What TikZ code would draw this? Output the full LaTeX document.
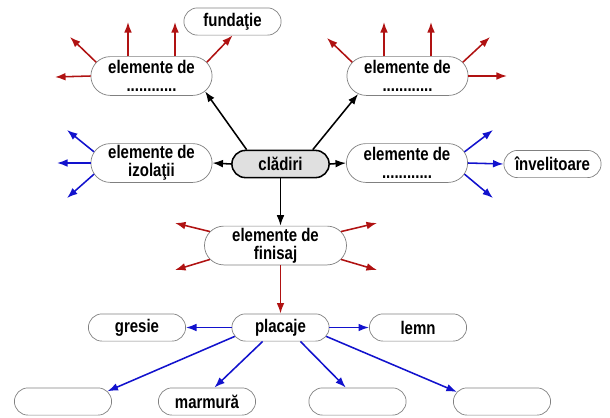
\documentclass[tikz,border=0pt]{standalone}
\usepackage{fontspec}
\newfontfamily\boxfont[FakeStretch=0.82]{Liberation Sans}
\usepackage{tikz}
\usetikzlibrary{shapes.misc, arrows.meta, positioning}
\definecolor{darkred}{RGB}{176,18,18}
\definecolor{darkblue}{RGB}{18,18,205}

\begin{document}
\begin{tikzpicture}[x=0.025cm, y=-0.025cm,
        box/.style={rounded rectangle, draw=black!50, fill=white, line width=0.5pt,
            align=center, inner sep=1pt, minimum width=2.5cm, minimum height=0.68cm,
            font=\boxfont\bfseries\fontsize{13}{13}\selectfont},
        bigbox/.style={box, minimum width=3.1cm, minimum height=0.97cm},
        root/.style={box, draw=black, line width=1.1pt, fill=black!12},
        blk/.style={-{Latex[length=7.5pt,width=5.5pt]}, line width=1.1pt},
        redarr/.style={blk, darkred},
        bluearr/.style={blk, darkblue}]
            \useasboundingbox (0,0) rectangle (610,417);

            % centre and the first ring
            \node[root] (cl) at (280.5,164) {clădiri};
            \node[bigbox] (tl) at (151.5,76) {elemente de\\............};
            \node[bigbox] (tr) at (407.5,76) {elemente de\\............};
            \node[bigbox] (iz) at (151.5,163) {elemente de\\izolaţii};
            \node[bigbox] (rm) at (407,163) {elemente de\\............};
            \node[bigbox, minimum width=3.62cm] (fin) at (275.5,245.5) {elemente de\\finisaj};
            \node[box] (fu) at (232.5,21.5) {fundaţie};
            \node[box] (inv) at (552.5,164) {învelitoare};

            % finishes
            \node[box] (pl) at (280.5,327.5) {placaje};
            \node[box] (gr) at (137,327.5) {gresie};
            \node[box] (le) at (418,327.5) {lemn};
            \node[box] (b1) at (63,401.5) {};
            \node[box] (mm) at (207,401.5) {marmură};
            \node[box] (b3) at (357.5,401.5) {};
            \node[box] (b4) at (502,401.5) {};

            % free ends of the open arrows
            \coordinate (tl-a) at (55,77);
            \coordinate (tl-b) at (70,37);
            \coordinate (tl-c) at (128,22);
            \coordinate (tl-d) at (175,22);
            \coordinate (tr-a) at (327,38);
            \coordinate (tr-b) at (384,22);
            \coordinate (tr-c) at (431,22);
            \coordinate (tr-d) at (490,37);
            \coordinate (tr-e) at (507,76);
            \coordinate (iz-a) at (67,130);
            \coordinate (iz-b) at (57,163);
            \coordinate (iz-c) at (67,198);
            \coordinate (rm-a) at (493,130);
            \coordinate (rm-b) at (493,198);
            \coordinate (fi-a) at (175,223);
            \coordinate (fi-b) at (175,270);
            \coordinate (fi-c) at (377,223);
            \coordinate (fi-d) at (377,270);

            \draw[blk] (cl.157) -- (tl.-16);
            \draw[blk] (cl.24) -- (tr.200);
            \draw[blk] (cl.west) -- (iz.east);
            \draw[blk] (cl.east) -- (rm.west);
            \draw[blk] (cl.south) -- (cl.south |- fin.north);

            \draw[redarr] (tl.west) -- (tl-a);
            \draw[redarr] (tl.166) -- (tl-b);
            \draw[redarr] (tl.north -| tl-c) -- (tl-c);
            \draw[redarr] (tl.north -| tl-d) -- (tl-d);
            \draw[redarr] (tl.14) -- (fu.south);

            \draw[redarr] (tr.166) -- (tr-a);
            \draw[redarr] (tr.north -| tr-b) -- (tr-b);
            \draw[redarr] (tr.north -| tr-c) -- (tr-c);
            \draw[redarr] (tr.14) -- (tr-d);
            \draw[redarr] (tr.east) -- (tr-e);

            \draw[bluearr] (iz.169) -- (iz-a);
            \draw[bluearr] (iz.west) -- (iz-b);
            \draw[bluearr] (iz.191) -- (iz-c);

            \draw[bluearr] (rm.11) -- (rm-a);
            \draw[bluearr] (rm.east) -- (inv.west);
            \draw[bluearr] (rm.-11) -- (rm-b);

            \draw[redarr] (fin.168) -- (fi-a);
            \draw[redarr] (fin.192) -- (fi-b);
            \draw[redarr] (fin.12) -- (fi-c);
            \draw[redarr] (fin.-12) -- (fi-d);
            \draw[redarr] (pl.north |- fin.south) -- (pl.north);

            \draw[bluearr] (pl.west) -- (gr.east);
            \draw[bluearr] (pl.east) -- (le.west);
            \draw[bluearr] (pl.191) -- (b1.13);
            \draw[bluearr] (pl.218) -- (mm.62);
            \draw[bluearr] (pl.325) -- (b3.130);
            \draw[bluearr] (pl.349) -- (b4.168);
        \end{tikzpicture}
\end{document}
